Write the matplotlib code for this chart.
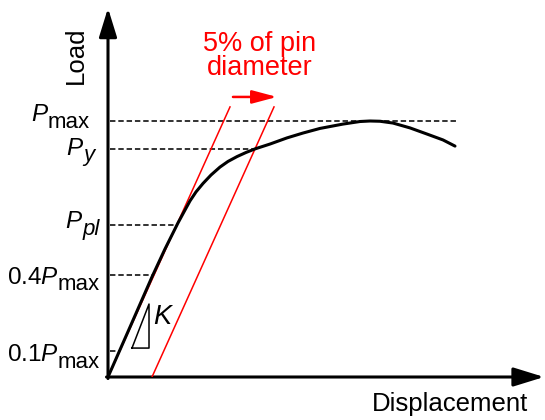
import numpy as np
import matplotlib.pyplot as plt

plt.rcParams["font.family"] = ["Liberation Sans", "DejaVu Sans"]
plt.rcParams["mathtext.fontset"] = "custom"
plt.rcParams["mathtext.rm"] = "Liberation Sans"
plt.rcParams["mathtext.it"] = "Liberation Sans:italic"

# ── data: load-displacement curve (displacement in units of the 5% offset, load / Pmax)
disp = [0, 0.5, 1.0, 1.295, 1.591, 1.727, 1.864, 2.0, 2.159, 2.341, 2.545, 2.727,
        2.932, 3.136, 3.341, 3.682, 4.068, 4.432, 4.818, 5.341, 5.727, 5.955,
        6.182, 6.477, 6.864, 7.25, 7.614, 7.886]
load = [0, 0.195, 0.391, 0.5, 0.602, 0.645, 0.688, 0.723, 0.756, 0.789, 0.820, 0.842,
        0.861, 0.877, 0.891, 0.910, 0.934, 0.953, 0.971, 0.988, 0.998, 1.0,
        0.999, 0.992, 0.973, 0.949, 0.926, 0.902]

offset = 1.0        # 5% of pin diameter
stiffness = 0.3805  # slope K of the initial straight line
line_top = 1.055    # load where the red lines stop

levels = [1.0, 0.891, 0.594, 0.4, 0.1]
level_main = ["$P$", "$P$", "$P$", "0.4$P$", "0.1$P$"]
level_sub = ["max", "y", "pl", "max", "max"]
sub_italic = [False, True, True, False, False]

tri_x = [0.545, 0.932, 0.932, 0.545]
tri_y = [0.113, 0.113, 0.285, 0.113]

# ── layout (pixel based: origin at 108, 377 ; 44 px per unit, 256 px per Pmax)
label_xr = [-0.41, -0.30, -0.18, -0.18, -0.18]
label_dy = [0, -4.3, -2.2, -6.5, -7.2]   # main baseline shift, points
sub_dy = -4.7

fig = plt.figure(figsize=(5.45, 4.2), dpi=100)
ax = fig.add_axes([108 / 545, 43 / 420, 437 / 545, 372 / 420])
ax.set_xlim(0, 437 / 44)
ax.set_ylim(0, 372 / 256)
ax.axis("off")

# axes with arrows
head = "-|>,head_length=0.55,head_width=0.17"
ax.annotate("", xy=(9.91, 0), xytext=(-0.034, 0), annotation_clip=False,
            arrowprops=dict(arrowstyle=head, color="k", lw=2.2, mutation_scale=34,
                            shrinkA=0, shrinkB=0))
ax.annotate("", xy=(0, 1.441), xytext=(0, -0.006), annotation_clip=False,
            arrowprops=dict(arrowstyle=head, color="k", lw=2.2, mutation_scale=32,
                            shrinkA=0, shrinkB=0))

# curve
ax.plot(disp, load, color="k", lw=2.2, solid_capstyle="round",
        solid_joinstyle="round", zorder=4)

# initial stiffness line and offset line
ly = np.array([0, line_top])
ax.plot(ly / stiffness, ly, color="red", lw=1.1, zorder=3)
ax.plot(ly / stiffness + offset, ly, color="red", lw=1.1, zorder=3)

# dashed level lines
peak = int(np.argmax(load))
for lev in levels:
    if lev >= max(load):
        xend = disp[-1] + 0.05
    else:
        xend = np.interp(lev, load[:peak + 1], disp[:peak + 1])
    ax.plot([0.05, xend], [lev, lev], color="#222222", lw=1.3,
            ls=(0, (3, 1.6)), zorder=2)

# level labels (main text + subscript)
for lev, main, sub, it, xr, dy in zip(levels, level_main, level_sub, sub_italic,
                                      label_xr, label_dy):
    st = ax.annotate(sub, xy=(xr, lev), xytext=(0, dy + sub_dy),
                     textcoords="offset points", ha="right", va="baseline",
                     fontsize=16, fontstyle="italic" if it else "normal",
                     annotation_clip=False)
    ax.annotate(main, xy=(0, lev), xycoords=(st, "data"), xytext=(0.5, dy),
                textcoords="offset points", ha="right", va="baseline", fontsize=17.5,
                annotation_clip=False)

# slope triangle
ax.plot(tri_x, tri_y, color="k", lw=1.1)
ax.text(1.27, 0.234, "$K$", fontsize=19.5, ha="center", va="center")

# offset annotation
ax.annotate("", xy=(2.84 + offset, 1.094), xytext=(2.84, 1.094),
            arrowprops=dict(arrowstyle="-|>,head_length=0.6,head_width=0.16",
                            color="red", lw=1.8, mutation_scale=25,
                            shrinkA=0, shrinkB=0))
ax.text(3.455, 1.273, "5% of pin", color="red", fontsize=19.5, ha="center", va="baseline")
ax.text(3.455, 1.18, "diameter", color="red", fontsize=19.5, ha="center", va="baseline")

# axis titles
ax.text(7.77, -0.133, "Displacement", fontsize=18.5, ha="center", va="baseline")
ax.text(-0.727, 1.258, "Load", fontsize=18.5, rotation=90, ha="center", va="center")

fig.savefig("out.png", dpi=100)
